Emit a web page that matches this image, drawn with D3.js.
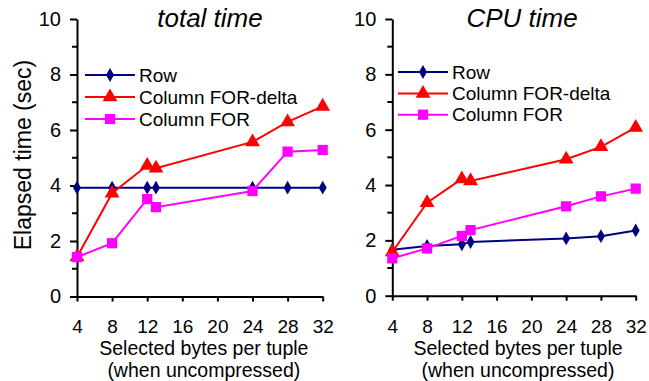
<!DOCTYPE html>
<html lang="en">
<head>
  <meta charset="UTF-8">
  <script src="https://d3js.org/d3.v7.min.js"></script>
  <title>Elapsed time</title>
  <style>
    body { margin: 0; background: #fff; }
    svg text { font-family: "Liberation Sans", Arial, sans-serif; fill: #000; }
    .axis path, .axis line { stroke: #000; stroke-width: 2px; }
  </style>
</head>
<body>
  <svg></svg>
  <script>
    const WIDTH = 649
    const HEIGHT = 381

    const bytes = [4, 8, 12, 13, 24, 28, 32]
    const xTicks = [4, 8, 12, 16, 20, 24, 28, 32]
    const yTicks = [0, 2, 4, 6, 8, 10]
    const yMinor = [1, 3, 5, 7, 9]
    const seriesNames = ['Row', 'Column FOR-delta', 'Column FOR']

    const totalRow = [3.92, 3.92, 3.92, 3.92, 3.92, 3.92, 3.92]
    const totalDelta = [1.42, 3.72, 4.72, 4.62, 5.57, 6.29, 6.85]
    const totalFor = [1.42, 1.92, 3.51, 3.22, 3.8, 5.22, 5.28]

    const cpuRow = [1.66, 1.8, 1.86, 1.94, 2.07, 2.15, 2.36]
    const cpuDelta = [1.58, 3.36, 4.22, 4.15, 4.93, 5.38, 6.08]
    const cpuFor = [1.35, 1.71, 2.16, 2.37, 3.23, 3.59, 3.87]

    const colors = ['#000080', '#ff0000', '#ff00ff']
    const shapes = [d3.symbolDiamond, d3.symbolTriangle, d3.symbolSquare]
    const shapeSize = [55, 95, 105]

    const svg = d3.select('svg')
      .attr('width', WIDTH)
      .attr('height', HEIGHT)

    const panels = [
      { title: 'total time', left: 77, right: 322.7, top: 19, bottom: 296.5, titleX: 210,
        series: [totalRow, totalDelta, totalFor], legendY: [75, 97, 119], legendX: 85 },
      { title: 'CPU time', left: 392.3, right: 635.7, top: 19, bottom: 295.7, titleX: 522,
        series: [cpuRow, cpuDelta, cpuFor], legendY: [72, 93.5, 114.7], legendX: 398 }
    ]

    panels.forEach((p) => {
      const x = d3.scaleLinear().domain([4, 32]).range([p.left, p.right])
      const y = d3.scaleLinear().domain([0, 10]).range([p.bottom, p.top])
      const g = svg.append('g')

      // y axis
      const yAxis = g.append('g')
        .attr('class', 'axis')
        .attr('transform', `translate(${p.left},0)`)
        .call(d3.axisLeft(y).tickValues(yTicks).tickSize(7).tickPadding(9).tickSizeOuter(0))
      yAxis.selectAll('text').style('font-size', '20px')
      yAxis.selectAll('.minor')
        .data(yMinor)
        .enter().append('line')
        .attr('x1', -5).attr('x2', 0)
        .attr('y1', (d) => y(d)).attr('y2', (d) => y(d))
        .attr('stroke', '#000').attr('stroke-width', 2)

      // x axis
      const xAxis = g.append('g')
        .attr('class', 'axis')
        .attr('transform', `translate(0,${p.bottom})`)
        .call(d3.axisBottom(x).tickValues(xTicks).tickSize(5).tickPadding(18.5).tickSizeOuter(0))
      xAxis.selectAll('text').style('font-size', '19px')

      const mid = (p.left + p.right) / 2 + 4
      g.append('text')
        .attr('x', mid)
        .attr('y', 355.2)
        .attr('text-anchor', 'middle')
        .style('font-size', '19.5px')
        .text('Selected bytes per tuple')
      g.append('text')
        .attr('x', mid)
        .attr('y', 377)
        .attr('text-anchor', 'middle')
        .style('font-size', '19.5px')
        .text('(when uncompressed)')

      g.append('text')
        .attr('x', p.titleX)
        .attr('y', 27)
        .attr('text-anchor', 'middle')
        .style('font-size', '26px')
        .style('font-style', 'italic')
        .text(p.title)

      const line = d3.line().x((d, i) => x(bytes[i])).y((d) => y(d))

      p.series.forEach((vals, si) => {
        g.append('path')
          .datum(vals)
          .attr('d', line)
          .attr('fill', 'none')
          .attr('stroke', colors[si])
          .attr('stroke-width', 2)
        g.append('g')
          .selectAll('path')
          .data(vals)
          .enter().append('path')
          .attr('d', d3.symbol().type(shapes[si]).size(shapeSize[si]))
          .attr('transform', (d, i) => `translate(${x(bytes[i])},${y(d)})`)
          .attr('fill', colors[si])
      })

      // legend
      const leg = g.append('g')
        .selectAll('g')
        .data(seriesNames)
        .enter().append('g')
        .attr('transform', (d, i) => `translate(${p.legendX},${p.legendY[i]})`)
      leg.append('line')
        .attr('x1', 0).attr('x2', 50)
        .attr('stroke', (d, i) => colors[i])
        .attr('stroke-width', 2)
      leg.append('path')
        .attr('d', (d, i) => d3.symbol().type(shapes[i]).size(shapeSize[i])())
        .attr('transform', 'translate(25,0)')
        .attr('fill', (d, i) => colors[i])
      leg.append('text')
        .attr('x', 54)
        .attr('dy', '0.35em')
        .style('font-size', '19px')
        .text((d) => d)
    })

    svg.append('text')
      .attr('transform', 'translate(31,155) rotate(-90)')
      .attr('text-anchor', 'middle')
      .style('font-size', '23px')
      .text('Elapsed time (sec)')
  </script>
</body>
</html>
